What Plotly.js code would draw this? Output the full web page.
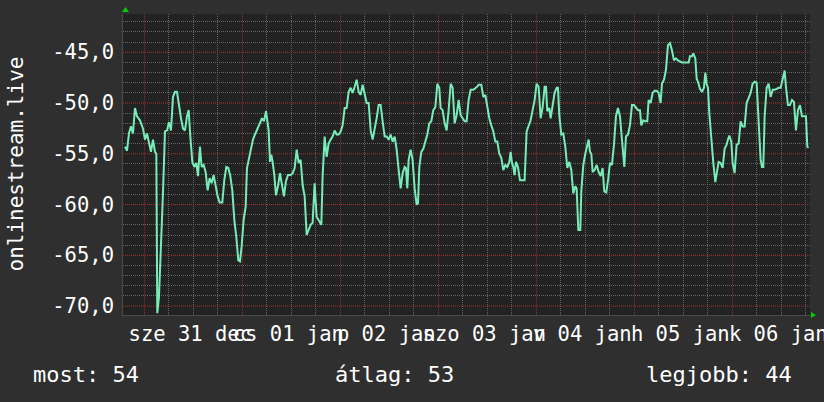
<!DOCTYPE html>
<html>
<head>
<meta charset="utf-8">
<script src="https://cdn.plot.ly/plotly-3.0.1.min.js"></script>
<style>html,body{margin:0;padding:0;background:#2f2f2f;}</style>
</head>
<body>
<div id="chart" style="width:824px;height:402px;"></div>
<script>
// hours since 2025-12-31 00:00
const hours = [
  -4.73,-4.24,-3.76,-3.27,-2.78,-2.29,-1.80,-1.06,-0.33,0.16,0.65,1.14,1.63,2.12,2.61,2.94,3.18,3.59,4.08,4.57,
  5.06,5.55,6.04,6.53,7.02,7.51,8.0,8.49,8.98,9.47,9.96,10.45,10.86,11.27,11.76,12.24,12.73,13.14,13.63,14.04,
  14.53,15.02,15.51,16.0,16.49,16.98,17.47,17.96,18.45,19.1,19.59,20.08,20.57,21.06,21.55,22.04,22.53,23.02,23.43,23.84,
  24.33,24.82,25.14,25.63,26.12,26.61,27.1,27.59,28.08,
  28.82,29.31,29.80,30.12,30.45,30.78,31.10,31.43,31.84,32.24,32.73,33.22,33.71,34.20,34.69,35.18,35.84,36.33,36.82,37.31,
  37.80,38.29,38.78,39.27,39.76,40.24,40.73,41.22,41.71,42.20,42.69,43.35,43.67,44.16,44.65,45.14,45.63,46.12,46.61,47.10,
  47.59,48.08,48.57,49.06,49.55,50.04,50.53,51.02,51.51,52.0,52.49,52.98,53.47,53.96,54.45,54.94,55.43,55.92,56.41,56.90,
  57.39,57.88,58.37,58.86,59.35,59.84,60.33,60.82,61.31,61.80,62.29,62.78,63.27,63.76,64.08,
  64.41,64.73,65.22,65.71,66.20,66.69,67.02,67.35,67.84,68.33,68.82,69.31,69.80,70.29,70.78,71.27,71.76,72.24,72.57,73.06,
  73.55,74.04,74.53,75.02,75.51,76.0,76.49,76.98,77.47,77.96,78.45,78.94,79.43,79.92,80.57,81.22,81.88,82.53,83.02,83.51,
  84.0,84.49,84.98,85.47,85.96,86.45,86.94,87.43,87.92,88.41,88.90,89.39,89.71,90.04,90.37,90.69,91.02,91.51,92.0,92.49,
  93.14,93.63,94.12,94.61,95.10,95.59,96.08,96.57,97.06,
  97.55,98.04,98.37,98.69,99.18,99.51,100.0,100.49,100.98,101.31,101.63,102.12,102.61,103.10,103.59,104.08,104.57,105.06,105.55,105.88,
  106.29,106.78,107.02,107.51,108.0,108.49,108.82,109.14,109.47,109.80,110.29,110.78,111.27,111.76,112.24,112.65,113.14,113.63,114.04,114.53,
  115.02,115.51,116.0,116.49,116.98,117.55,117.96,118.45,118.94,119.43,119.92,120.41,120.90,121.39,121.71,122.20,122.69,123.18,123.51,124.0,
  124.49,124.98,125.47,125.96,126.45,126.78,127.27,127.76,128.24,128.73,129.22,129.71,130.20,130.69,131.18,131.67,132.65,
  133.31,133.63,134.12,134.45,134.94,135.27,135.59,136.08,136.57,137.06,137.39,137.71,138.04,138.37,138.69,139.02,139.35,139.84,140.16,140.65,
  141.14,141.63,142.12,142.61,142.94,143.27,143.76,144.08,144.57,145.06,145.55,146.04,146.53,147.02,147.51,148.0,148.49,148.98,149.47,149.96,
  150.45,150.94,151.27,151.59,151.92,152.41,152.90,153.39,153.88,154.37,154.86,155.35,155.84,156.33,156.82,157.14,157.63,158.12,158.61,159.10,
  159.59,160.08,160.57,161.06,161.55,162.04,162.37,162.69
];
const signal = [
  -54.3,-54.7,-53.0,-52.3,-53.0,-50.5,-51.3,-51.7,-52.5,-53.6,-53.0,-54.0,-54.8,-53.6,-54.8,-55.0,-70.7,-69.1,-64.8,-58.9,
  -52.8,-52.7,-51.9,-52.7,-49.4,-48.9,-48.9,-50.4,-51.5,-52.5,-52.7,-51.3,-50.7,-53.3,-55.8,-56.3,-55.9,-57.2,-54.3,-56.3,
  -56.1,-56.8,-58.6,-57.4,-57.9,-57.1,-58.2,-59.2,-59.8,-59.8,-57.6,-56.3,-56.4,-57.2,-58.6,-61.5,-63.2,-65.5,-65.6,-64.1,
  -61.5,-60.2,-56.4,-55.4,-54.3,-53.6,-53.1,-52.7,-52.2,
  -51.5,-51.8,-50.8,-51.8,-52.7,-55.8,-55.1,-55.8,-57.1,-59.1,-58.2,-56.9,-58.1,-59.2,-57.7,-57.1,-57.1,-56.9,-56.4,-54.6,
  -55.9,-55.6,-58.1,-59.2,-63.0,-62.5,-62.0,-61.8,-57.9,-61.2,-61.5,-62.0,-57.2,-53.3,-55.3,-54.0,-53.6,-53.3,-52.7,-53.1,
  -53.1,-52.8,-52.2,-50.5,-50.5,-48.9,-48.5,-49.0,-48.4,-47.7,-48.9,-49.2,-48.2,-49.2,-50.0,-50.0,-52.7,-53.6,-52.7,-51.5,
  -50.2,-50.2,-51.8,-53.3,-53.3,-53.6,-53.1,-53.8,-53.3,-54.6,-56.6,-58.4,-56.9,-56.3,-56.4,
  -58.4,-55.6,-54.6,-55.6,-58.4,-60.0,-59.9,-56.3,-54.8,-54.5,-53.8,-53.1,-52.0,-51.8,-50.7,-50.4,-48.1,-48.5,-50.5,-50.7,
  -52.0,-52.7,-50.7,-48.1,-48.5,-52.0,-51.2,-49.7,-51.2,-51.5,-51.8,-51.8,-49.7,-48.7,-48.7,-48.5,-48.2,-48.2,-49.4,-49.2,
  -50.5,-51.5,-52.2,-52.8,-53.8,-53.8,-55.0,-55.4,-56.6,-56.1,-56.3,-55.8,-54.8,-55.9,-56.3,-57.1,-55.8,-56.3,-57.6,-57.6,
  -57.6,-52.8,-52.3,-51.7,-50.7,-49.7,-48.1,-48.4,-51.5,
  -50.4,-48.4,-48.4,-50.8,-50.5,-51.5,-50.4,-49.0,-48.5,-48.5,-51.2,-53.1,-53.0,-54.3,-56.4,-55.8,-56.6,-58.9,-58.2,-58.4,
  -62.5,-62.5,-58.7,-56.1,-55.0,-54.0,-53.6,-54.8,-55.0,-56.8,-56.6,-56.1,-56.8,-57.2,-56.4,-58.7,-58.8,-57.4,-55.9,-56.1,
  -54.1,-51.3,-50.5,-51.3,-53.3,-56.3,-53.3,-53.1,-52.2,-50.2,-50.2,-50.4,-50.7,-50.7,-52.2,-51.7,-51.8,-51.8,-49.7,-50.0,
  -49.0,-48.8,-48.8,-49.0,-50.0,-48.1,-47.7,-46.7,-44.3,-44.1,-44.8,-45.8,-45.6,-45.8,-45.9,-46.0,-46.0,
  -46.0,-45.4,-45.4,-45.1,-45.6,-47.6,-47.9,-48.6,-48.9,-48.5,-47.0,-48.1,-48.5,-51.0,-52.8,-54.6,-55.9,-57.8,-56.9,-55.8,
  -55.9,-56.4,-54.5,-54.1,-53.6,-53.2,-53.8,-55.9,-56.9,-54.1,-54.0,-51.8,-52.3,-52.3,-50.0,-49.4,-49.0,-48.1,-47.9,-48.0,
  -51.2,-55.6,-56.3,-56.3,-51.3,-48.5,-48.1,-49.4,-48.7,-48.7,-48.6,-48.5,-48.5,-47.7,-46.8,-48.4,-50.2,-50.2,-49.7,-49.9,
  -52.7,-50.7,-50.2,-51.3,-51.3,-51.3,-54.3,-54.4
];

const dayTicks = [0, 24, 48, 72, 96, 120, 144];
const dayLabels = ["sze 31 dec", "cs 01 jan", "p 02 jan", "szo 03 jan", "v 04 jan", "h 05 jan", "k 06 jan"];
const yTicks = [-70, -65, -60, -55, -50, -45];
const yLabels = ["-70,0", "-65,0", "-60,0", "-55,0", "-50,0", "-45,0"];
const axisTitle = "onlinestream.live";
const legendLabels = ["most: 54", "átlag: 53", "legjobb: 44"];

const xRange = [-5.22, 163.03];
const yRange = [-70.88, -41.23];
const M = {l: 123, r: 14, t: 14, b: 87};
const W = 824, H = 402;
const PW = W - M.l - M.r, PH = H - M.t - M.b;
const px = x => (x - M.l) / PW;
const py = y => (H - M.b - y) / PH;

// minor grid positions (every 6 h / every 1 unit), skipping the major ones
const xMinor = [];
for (let h = Math.ceil(xRange[0] / 6) * 6; h <= xRange[1]; h += 6) {
  if (dayTicks.indexOf(h) < 0) xMinor.push(h);
}
const yMinor = [];
for (let v = Math.ceil(yRange[0]); v <= yRange[1]; v += 1) {
  if (yTicks.indexOf(v) < 0) yMinor.push(v);
}
// major horizontal grid drawn as a dotted line trace across the full x range
const hGridX = [], hGridY = [];
yTicks.forEach(v => { hGridX.push(xRange[0], xRange[1], null); hGridY.push(v, v, null); });

const FONT = "DejaVu Sans Mono";
const RED = '#a83434', GREY = '#646464';
const DOT = '1px,1px';
const tickFont = {family: FONT, size: 20.5, color: '#ffffff'};

const traces = [
  {x: [], y: [], type: 'scatter', mode: 'lines', hoverinfo: 'skip'},
  {x: [], y: [], xaxis: 'x2', yaxis: 'y', type: 'scatter', mode: 'lines', hoverinfo: 'skip'},
  {x: hGridX, y: hGridY, xaxis: 'x', yaxis: 'y2', type: 'scatter', mode: 'lines',
   line: {color: RED, width: 1, dash: DOT}, hoverinfo: 'skip', connectgaps: false},
  {x: hours, y: signal, xaxis: 'x', yaxis: 'y2', type: 'scatter', mode: 'lines',
   line: {color: '#78ecb8', width: 2, shape: 'linear'}, hoverinfo: 'skip'}
];

const layout = {
  width: W, height: H,
  margin: {l: M.l, r: M.r, t: M.t, b: M.b, pad: 0},
  paper_bgcolor: '#2f2f2f',
  plot_bgcolor: '#222222',
  showlegend: false,
  font: {family: FONT, color: '#ffffff', size: 20},
  xaxis: {
    type: 'linear', range: xRange, fixedrange: true,
    tickmode: 'array', tickvals: xMinor, showticklabels: false, ticks: '',
    showgrid: true, gridcolor: GREY, griddash: DOT, gridwidth: 1,
    zeroline: false, showline: true, linecolor: '#4a4a4a', linewidth: 1
  },
  yaxis: {
    range: yRange, fixedrange: true,
    tickmode: 'array', tickvals: yMinor, showticklabels: false, ticks: '',
    showgrid: true, gridcolor: GREY, griddash: DOT, gridwidth: 1,
    zeroline: false, showline: true, linecolor: '#4a4a4a', linewidth: 1
  },
  xaxis2: {
    overlaying: 'x', matches: 'x', range: xRange, fixedrange: true, side: 'bottom', anchor: 'y',
    tickmode: 'array', tickvals: dayTicks, ticktext: dayLabels, ticklabeloverflow: 'allow',
    tickangle: 0, ticklabelshift: 46, ticklabelstandoff: 4, ticks: '',
    tickfont: tickFont,
    showgrid: true, gridcolor: '#8e2e2e', griddash: DOT, gridwidth: 1,
    zeroline: false, showline: false
  },
  yaxis2: {
    overlaying: 'y', matches: 'y', range: yRange, fixedrange: true, side: 'left', anchor: 'x',
    tickmode: 'array', tickvals: yTicks, ticktext: yLabels,
    ticks: '', ticklabelstandoff: 8, tickfont: tickFont,
    showgrid: false, zeroline: false, showline: false
  },
  annotations: [
    {text: axisTitle, textangle: -90, xref: 'paper', yref: 'paper', x: px(15), y: 0.5,
     xanchor: 'center', yanchor: 'middle', showarrow: false, font: {family: FONT, size: 21, color: '#ffffff'}},
    {text: legendLabels[0], xref: 'paper', yref: 'paper', x: px(31), y: py(374),
     xanchor: 'left', yanchor: 'middle', showarrow: false, font: {family: FONT, size: 22, color: '#ffffff'}},
    {text: legendLabels[1], xref: 'paper', yref: 'paper', x: px(333), y: py(374),
     xanchor: 'left', yanchor: 'middle', showarrow: false, font: {family: FONT, size: 22, color: '#ffffff'}},
    {text: legendLabels[2], xref: 'paper', yref: 'paper', x: px(794), y: py(374),
     xanchor: 'right', yanchor: 'middle', showarrow: false, font: {family: FONT, size: 22, color: '#ffffff'}}
  ],
  shapes: [
    {type: 'path', xref: 'paper', yref: 'paper', xsizemode: 'pixel', ysizemode: 'pixel',
     xanchor: 0, yanchor: 1, path: 'M -1,2 L 6,2 L 2.5,7 Z', fillcolor: '#00d000', line: {width: 0}, layer: 'above'},
    {type: 'path', xref: 'paper', yref: 'paper', xsizemode: 'pixel', ysizemode: 'pixel',
     xanchor: 1, yanchor: 0, path: 'M 1,3 L 1,-3 L 6,0 Z', fillcolor: '#00d000', line: {width: 0}, layer: 'above'}
  ]
};

Plotly.newPlot('chart', traces, layout, {staticPlot: true, displayModeBar: false});
</script>
</body>
</html>
